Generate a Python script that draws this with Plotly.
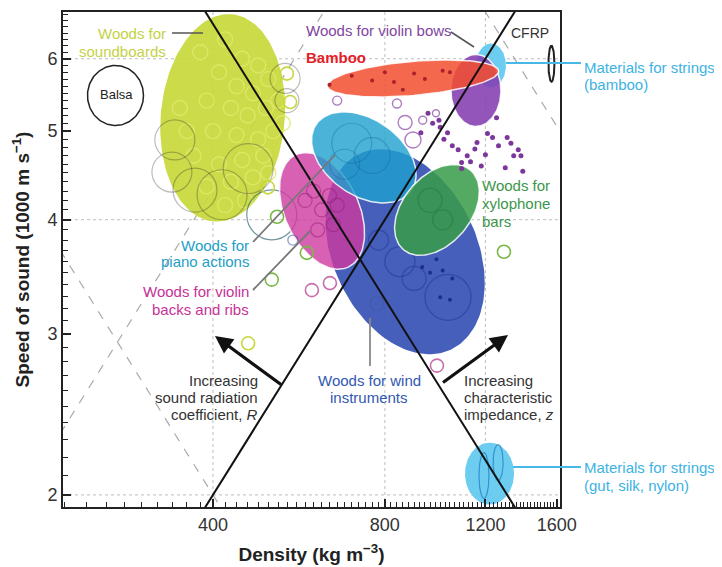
import numpy as np
import plotly.graph_objects as go

# ---------------- data (density kg m^-3, speed of sound 1000 m s^-1) ----------------
x_ticks = [400, 800, 1200, 1600]
y_ticks = [2, 3, 4, 5, 6]
x_grid = [400, 800, 1200]
y_grid = [2, 4, 6]

# filled material regions (drawing order)
region_names = ["soundboards", "wind", "violin_backs", "piano", "xylophone",
                "cfrp_strings", "violin_bows", "bamboo", "gut_strings"]
region_density = [416, 868, 621, 735, 987, 1227, 1155, 896, 1220]
region_speed = [5.17, 3.69, 4.09, 4.68, 4.10, 5.90, 5.54, 5.71, 2.11]

# outline-only regions
outline_names = ["balsa", "cfrp", "gut_a", "gut_b"]
outline_density = [270, 1566, 1193, 1263]
outline_speed = [5.47, 5.925, 2.10, 2.17]

# iso-lines: sound radiation coefficient R = c/rho, impedance z = rho*c
R_solid, R_dashed = 0.005, 0.0108
z_solid, z_dashed, z_dashed_hi = 2620, 800, 8100
R_solid_density = [380, 1400]
R_dashed_density = [200, 650]
z_solid_density = [370, 1400]
z_dashed_density = [200, 430]
z_dashed_hi_density = [1150, 1700]

# individual species (open circles)
sb_in_density = [380, 420, 450, 480, 500, 470, 440, 410, 390, 430, 460, 495, 520, 360, 400,
                 440, 480, 510, 370, 410, 450, 490, 390, 430, 470, 420, 455, 350, 530, 500]
sb_in_speed = [6.1, 6.3, 6.0, 5.9, 5.7, 5.5, 5.6, 5.8, 5.4, 5.3, 5.2, 5.3, 5.4, 5.0, 5.0,
               4.95, 4.9, 5.0, 4.7, 4.6, 4.65, 4.7, 4.35, 4.4, 4.45, 4.15, 4.2, 5.3, 5.1, 4.5]

arc_density = [343, 339, 372, 415, 461, 535, 539]
arc_speed = [4.89, 4.51, 4.31, 4.26, 4.55, 5.71, 5.40]
arc_size = [40, 40, 44, 50, 50, 30, 24]

yel_density = [546, 499, 461, 539]
yel_speed = [5.38, 4.34, 2.93, 5.78]
grn_density = [518, 507, 584, 1293]
grn_speed = [4.03, 3.44, 3.68, 3.69]
mag_density = [596, 641, 987]
mag_speed = [3.35, 3.41, 2.77]
blu_density = [775, 552]
blu_speed = [3.24, 3.80]
teal_arc_density = [507]
teal_arc_speed = [4.05]

wind_in_density = [1032, 850, 780, 900]
wind_in_speed = [3.29, 3.60, 3.80, 3.45]
wind_in_size = [46, 30, 20, 24]
wind_dot_density = [1000, 1040, 1050, 930, 960, 985, 1010]
wind_dot_speed = [3.29, 3.27, 3.45, 3.55, 3.50, 3.62, 3.52]

mag_in_density = [600, 620, 650, 580, 640, 610, 660]
mag_in_speed = [4.30, 4.10, 3.95, 4.20, 4.25, 3.90, 4.15]
piano_arc_density = [700, 760, 680]
piano_arc_speed = [4.85, 4.70, 4.60]
xyl_in_density = [960, 1010]
xyl_in_speed = [4.20, 4.00]

bamboo_dot_density = [640, 700, 760, 800, 830, 900, 940, 1010, 1040, 860]
bamboo_dot_speed = [5.62, 5.75, 5.68, 5.80, 5.66, 5.78, 5.70, 5.82, 5.80, 5.55]

bow_dot_density = [952, 970, 995, 925, 1015, 1050, 1090, 1075, 1115, 1160, 1200, 1210, 1255, 1265,
                   1330, 1370, 1345, 1385, 1395, 1300, 1130, 1090, 1000, 1030, 1150, 1235, 1310, 1180]
bow_dot_speed = [5.23, 5.10, 5.14, 4.98, 4.90, 4.82, 4.62, 4.77, 4.70, 4.86, 4.71, 4.97, 5.17, 4.82,
                 4.85, 4.77, 4.70, 4.70, 4.52, 4.56, 4.63, 4.55, 5.05, 4.98, 4.78, 4.92, 4.92, 4.58]
bow_circ_density = [868, 896, 840, 660, 932, 983]
bow_circ_speed = [5.11, 4.89, 5.36, 5.40, 5.14, 5.23]
bow_circ_size = [14, 16, 9, 9, 8, 7]

# ---------------- geometry / style ----------------
OFF = 8                      # page body margin of the html page
W, H = 714, 559
L, RM, T, B = 55, 162, 4, 60
PW, PH = W - L - RM, H - T - B
XR = [np.log10(218.5), np.log10(1621)]
YR = [np.log10(1.94), np.log10(6.75)]
PPX = PW / (XR[1] - XR[0])
PPY = PH / (YR[1] - YR[0])
FONT = "Liberation Sans, Arial, sans-serif"

# semi-axes (px) and rotation (deg) for each region
region_geom = {
    "soundboards": (104, 62, 85), "wind": (108, 72, -65), "violin_backs": (62, 37, -65),
    "piano": (58, 38, -35), "xylophone": (52, 34, 50), "cfrp_strings": (22, 15, 90),
    "violin_bows": (36, 25, 90), "bamboo": (86, 17, 5), "gut_strings": (31, 24.5, 90),
}
region_fill = {
    "soundboards": "rgba(200,216,58,0.92)", "wind": "rgba(60,86,182,0.95)",
    "violin_backs": "rgba(206,58,160,0.80)", "piano": "rgba(30,160,206,0.80)",
    "xylophone": "rgba(56,156,72,0.86)", "cfrp_strings": "rgba(100,202,240,0.95)",
    "violin_bows": "rgba(132,62,176,0.88)", "bamboo": "rgba(242,78,46,0.85)",
    "gut_strings": "rgba(100,202,240,0.95)",
}
region_edge = {"violin_backs", "piano", "xylophone", "violin_bows", "bamboo"}
outline_geom = {"balsa": (28, 30, 0, "#222", 1.5), "cfrp": (3, 18, 0, "#222", 2),
                "gut_a": (5, 23, 0, "rgba(40,130,200,0.8)", 1.2),
                "gut_b": (5, 18, 0, "rgba(40,130,200,0.8)", 1.2)}


def ellipse(d0, v0, a, b, ang, n=160):
    t = np.linspace(0, 2 * np.pi, n)
    th = np.radians(ang)
    dx = a * np.cos(t) * np.cos(th) - b * np.sin(t) * np.sin(th)
    dy = a * np.cos(t) * np.sin(th) + b * np.sin(t) * np.cos(th)
    return 10 ** (np.log10(d0) + dx / PPX), 10 ** (np.log10(v0) + dy / PPY)


def pxp(x):
    return (x - OFF - L) / PW


def pyp(y):
    return (OFF + T + PH - y) / PH


fig = go.Figure()


def line_trace(xs, ys, color, width, dash="solid"):
    fig.add_trace(go.Scatter(x=xs, y=ys, mode="lines", line=dict(color=color, width=width, dash=dash),
                             hoverinfo="skip", showlegend=False))


def circles(xs, ys, size, color, width=1.3, symbol="circle-open"):
    fig.add_trace(go.Scatter(x=xs, y=ys, mode="markers", hoverinfo="skip", showlegend=False,
                             marker=dict(symbol=symbol, size=size, color=color,
                                         line=dict(color=color, width=width))))


def dots(xs, ys, size, color):
    fig.add_trace(go.Scatter(x=xs, y=ys, mode="markers", hoverinfo="skip", showlegend=False,
                             marker=dict(symbol="circle", size=size, color=color, line=dict(width=0))))


def region(name):
    i = region_names.index(name)
    a, b, ang = region_geom[name]
    xs, ys = ellipse(region_density[i], region_speed[i], a, b, ang)
    edge = "rgba(255,255,255,0.85)" if name in region_edge else "rgba(0,0,0,0)"
    fig.add_trace(go.Scatter(x=xs, y=ys, mode="lines", fill="toself", fillcolor=region_fill[name],
                             line=dict(color=edge, width=1.5), hoverinfo="skip", showlegend=False))


def outline(name):
    i = outline_names.index(name)
    a, b, ang, col, w = outline_geom[name]
    xs, ys = ellipse(outline_density[i], outline_speed[i], a, b, ang)
    line_trace(xs, ys, col, w)


# faint reference iso-lines
dgray = "rgba(160,160,160,0.9)"
line_trace(R_dashed_density, [R_dashed * d for d in R_dashed_density], dgray, 1.2, "dash")
line_trace(z_dashed_density, [z_dashed / d for d in z_dashed_density], dgray, 1.2, "dash")
line_trace(z_dashed_hi_density, [z_dashed_hi / d for d in z_dashed_hi_density], dgray, 1.2, "dash")

# soundboards
region("soundboards")
circles(sb_in_density, sb_in_speed, 15, "rgba(222,234,105,0.85)", 1.4)
circles(arc_density, arc_speed, arc_size, "rgba(40,40,40,0.45)", 1.2)
circles(teal_arc_density, teal_arc_speed, 50, "rgba(40,95,110,0.65)", 1.2)
circles(yel_density, yel_speed, 13, "rgb(200,215,60)", 1.6)

# wind instruments
region("wind")
circles(wind_in_density, wind_in_speed, wind_in_size, "rgba(25,45,140,0.6)", 1.3)
dots(wind_dot_density, wind_dot_speed, 4, "rgba(20,35,120,0.8)")

# violin backs
region("violin_backs")
circles(mag_in_density, mag_in_speed, 14, "rgba(150,25,115,0.5)", 1.2)

# piano actions
region("piano")
circles(piano_arc_density, piano_arc_speed, [40, 36, 30], "rgba(15,100,150,0.5)", 1.2)

# xylophone
region("xylophone")
circles(xyl_in_density, xyl_in_speed, [24, 20], "rgba(25,105,45,0.5)", 1.2)

# strings (bamboo/CFRP), violin bows, bamboo
region("cfrp_strings")
region("violin_bows")
region("bamboo")
dots(bamboo_dot_density, bamboo_dot_speed, 4, "rgba(160,25,40,0.9)")
dots(bow_dot_density, bow_dot_speed, 5, "rgb(125,55,155)")
circles(bow_circ_density, bow_circ_speed, bow_circ_size, "rgb(135,70,165)", 1.4)

# strings gut/silk/nylon
region("gut_strings")
outline("gut_a")
outline("gut_b")

# outline materials
outline("balsa")
outline("cfrp")

# scattered species
circles(grn_density, grn_speed, 13, "rgb(120,185,70)", 1.6)
circles(mag_density, mag_speed, 13, "rgb(200,110,170)", 1.6)
circles(blu_density, blu_speed, [14, 10], "rgba(60,90,160,0.8)", 1.4)

# solid iso-lines
line_trace(R_solid_density, [R_solid * d for d in R_solid_density], "#111", 2)
line_trace(z_solid_density, [z_solid / d for d in z_solid_density], "#111", 2)

# ---------------- grid lines ----------------
shapes = []
for g in x_grid:
    shapes.append(dict(type="line", xref="x", yref="paper", x0=g, x1=g, y0=0, y1=1, layer="below",
                       line=dict(color="#bdbdbd", width=1, dash="dot")))
for g in y_grid:
    shapes.append(dict(type="line", xref="paper", yref="y", x0=0, x1=1, y0=g, y1=g, layer="below",
                       line=dict(color="#bdbdbd", width=1, dash="dot")))

# pointer lines (screen pixel anchors -> paper)
pointers = [((172, 33), (203, 33), "#555", 1.5),
            ((451, 32), (474, 47), "#555", 1.5),
            ((506, 63), (581, 63), "rgb(70,185,230)", 2),
            ((253, 242), (335, 155), "#777", 1.8),
            ((253, 290), (310, 231), "#777", 1.8),
            ((370, 318), (370, 366), "#888", 1.8),
            ((513, 467), (581, 467), "rgb(70,185,230)", 2)]
for (x0, y0), (x1, y1), c, w in pointers:
    shapes.append(dict(type="line", xref="paper", yref="paper", x0=pxp(x0), y0=pyp(y0),
                       x1=pxp(x1), y1=pyp(y1), line=dict(color=c, width=w)))

# ---------------- text labels ----------------
C_SB = "rgb(196,210,70)"
C_BOW = "rgb(128,70,160)"
C_STR = "rgb(60,178,228)"
C_XYL = "rgb(60,150,75)"
C_PIA = "rgb(35,160,200)"
C_VIO = "rgb(200,50,150)"
C_WIN = "rgb(50,88,178)"
C_TXT = "#333"

labels = [
    ("Woods for", 166, 34, "right", C_SB, 15),
    ("soundboards", 166, 52, "right", C_SB, 15),
    ("Balsa", 116, 95, "center", "#222", 13),
    ("Woods for violin bows", 306, 30, "left", C_BOW, 15),
    ("<b>Bamboo</b>", 306, 57, "left", "rgb(228,32,40)", 15),
    ("CFRP", 511, 33, "left", C_TXT, 14),
    ("Materials for strings", 584, 67, "left", C_STR, 15),
    ("(bamboo)", 584, 84, "left", C_STR, 15),
    ("Woods for", 482, 185, "left", C_XYL, 15),
    ("xylophone", 482, 203, "left", C_XYL, 15),
    ("bars", 482, 221, "left", C_XYL, 15),
    ("Woods for", 249, 245, "right", C_PIA, 15),
    ("piano actions", 249, 262, "right", C_PIA, 15),
    ("Woods for violin", 249, 291, "right", C_VIO, 15),
    ("backs and ribs", 249, 309, "right", C_VIO, 15),
    ("Increasing", 258, 380, "right", C_TXT, 15),
    ("sound radiation", 258, 397, "right", C_TXT, 15),
    ("coefficient, <i>R</i>", 258, 414, "right", C_TXT, 15),
    ("Woods for wind", 369, 380, "center", C_WIN, 15),
    ("instruments", 369, 397, "center", C_WIN, 15),
    ("Increasing", 464, 380, "left", C_TXT, 15),
    ("characteristic", 464, 397, "left", C_TXT, 15),
    ("impedance, <i>z</i>", 464, 414, "left", C_TXT, 15),
    ("Materials for strings", 584, 467, "left", C_STR, 15),
    ("(gut, silk, nylon)", 584, 485, "left", C_STR, 15),
]
annotations = []
for txt, x, y, anc, col, sz in labels:
    annotations.append(dict(text=txt, x=pxp(x), y=pyp(y), xref="paper", yref="paper",
                            xanchor=anc, yanchor="middle", showarrow=False, borderpad=0, borderwidth=0,
                            font=dict(family=FONT, size=sz, color=col)))

# arrows (head, tail offset in px)
for (hx, hy), (tx, ty) in [((215, 336), (283, 386)), ((508, 335), (441, 384))]:
    annotations.append(dict(text=" ", x=pxp(hx), y=pyp(hy), xref="paper", yref="paper",
                            ax=tx - hx, ay=ty - hy, axref="pixel", ayref="pixel", showarrow=True,
                            arrowhead=2, arrowsize=1.1, arrowwidth=3.2, arrowcolor="#111",
                            font=dict(size=2)))

x_minor = [v for v in range(220, 1620, 20) if v not in x_ticks]
y_minor = [round(v / 10, 1) for v in range(20, 68) if v % 10]

fig.update_layout(
    width=W, height=H, margin=dict(l=L, r=RM, t=T, b=B),
    paper_bgcolor="white", plot_bgcolor="white", showlegend=False,
    shapes=shapes, annotations=annotations,
    font=dict(family=FONT, color=C_TXT),
    xaxis=dict(type="log", range=XR, tickmode="array", tickvals=x_ticks,
               ticktext=[str(v) for v in x_ticks], ticks="inside", ticklen=8, tickwidth=1.5,
               tickcolor="#222", showgrid=False, zeroline=False, showline=True, linecolor="#222",
               linewidth=2, mirror=True, automargin=False,
               tickfont=dict(family=FONT, size=18, color=C_TXT),
               minor=dict(tickmode="array", tickvals=x_minor, ticks="inside", ticklen=5,
                          tickwidth=1.2, tickcolor="#222", showgrid=False),
               title=dict(text="<b>Density (kg m<sup>\u22123</sup>)</b>", standoff=14,
                          font=dict(family=FONT, size=19, color="#222"))),
    yaxis=dict(type="log", range=YR, tickmode="array", tickvals=y_ticks,
               ticktext=[str(v) for v in y_ticks], ticks="inside", ticklen=8, tickwidth=1.5,
               tickcolor="#222", showgrid=False, zeroline=False, showline=True, linecolor="#222",
               linewidth=2, mirror=True, automargin=False,
               tickfont=dict(family=FONT, size=18, color=C_TXT),
               minor=dict(tickmode="array", tickvals=y_minor, ticks="inside", ticklen=5,
                          tickwidth=1.2, tickcolor="#222", showgrid=False),
               title=dict(text="<b>Speed of sound (1000 m s<sup>\u22121</sup>)</b>", standoff=13,
                          font=dict(family=FONT, size=19, color="#222"))),
)

fig.write_html("out.html")
